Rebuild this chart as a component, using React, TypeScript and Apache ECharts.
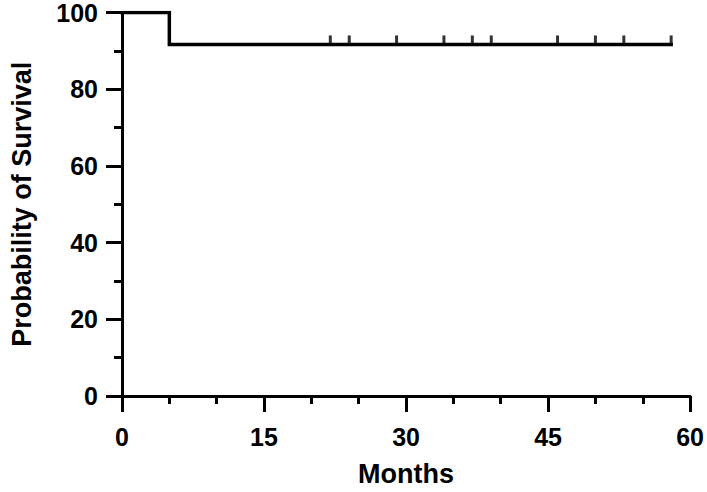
import React, { useEffect, useRef } from "react";
import * as echarts from "echarts";

// Kaplan-Meier step points (months, % survival)
const stepMonths = [0, 5, 5, 58];
const stepSurvival = [100, 100, 91.67, 91.67];
// Censored observations (months)
const censorMonths = [22, 24, 29, 34, 37, 39, 46, 50, 53, 58];
const censorSurvival = 91.67;

const xTicks = [0, 15, 30, 45, 60];
const yTicks = [0, 20, 40, 60, 80, 100];

const FONT = "'Liberation Sans', Arial, Helvetica, sans-serif";

export default function App() {
  const ref = useRef<HTMLDivElement>(null);
  useEffect(() => {
    if (!ref.current) return;
    const chart = echarts.init(ref.current, undefined, { renderer: "svg" });
    const axisCommon = {
      axisLine: { show: true, lineStyle: { color: "#000", width: 3 } },
      axisTick: { show: true, inside: false, length: 16, lineStyle: { color: "#000", width: 3 } },
      minorTick: { show: true, length: 8, lineStyle: { color: "#000", width: 3 } },
      splitLine: { show: false },
      minorSplitLine: { show: false },
    };
    chart.setOption({
      animation: false,
      backgroundColor: "#fff",
      grid: { left: 115, right: 15.3, top: 10.7, bottom: 95.3, containLabel: false },
      xAxis: {
        type: "value",
        min: xTicks[0],
        max: xTicks[xTicks.length - 1],
        interval: 15,
        name: "Months",
        nameLocation: "middle",
        nameGap: 64,
        nameTextStyle: { color: "#000", fontSize: 27, fontWeight: "bold", fontFamily: FONT },
        ...axisCommon,
        minorTick: { ...axisCommon.minorTick, splitNumber: 3 },
        axisLabel: { color: "#000", fontSize: 25, fontWeight: "bold", fontFamily: FONT, margin: 28 },
      },
      yAxis: {
        type: "value",
        min: yTicks[0],
        max: yTicks[yTicks.length - 1],
        interval: 20,
        name: "Probability of Survival",
        nameLocation: "middle",
        nameGap: 87,
        nameTextStyle: { color: "#000", fontSize: 27, fontWeight: "bold", fontFamily: FONT },
        ...axisCommon,
        minorTick: { ...axisCommon.minorTick, splitNumber: 2 },
        axisLabel: { color: "#000", fontSize: 25, fontWeight: "bold", fontFamily: FONT, margin: 24 },
      },
      series: [
        {
          type: "line",
          data: stepMonths.map((m, i) => [m, stepSurvival[i]]),
          showSymbol: false,
          symbol: "none",
          lineStyle: { color: "#000", width: 3.5, cap: "square", join: "miter" },
          z: 3,
        },
        {
          type: "scatter",
          data: censorMonths.map((m) => [m, censorSurvival]),
          symbol: "rect",
          symbolSize: [3, 9],
          symbolOffset: [0, -4.5],
          itemStyle: { color: "#000" },
          z: 4,
        },
      ],
    });
    return () => chart.dispose();
  }, []);
  return (
    <div
      ref={ref}
      style={{ position: "fixed", left: 0, top: 0, width: 707, height: 492, background: "#fff" }}
    />
  );
}
